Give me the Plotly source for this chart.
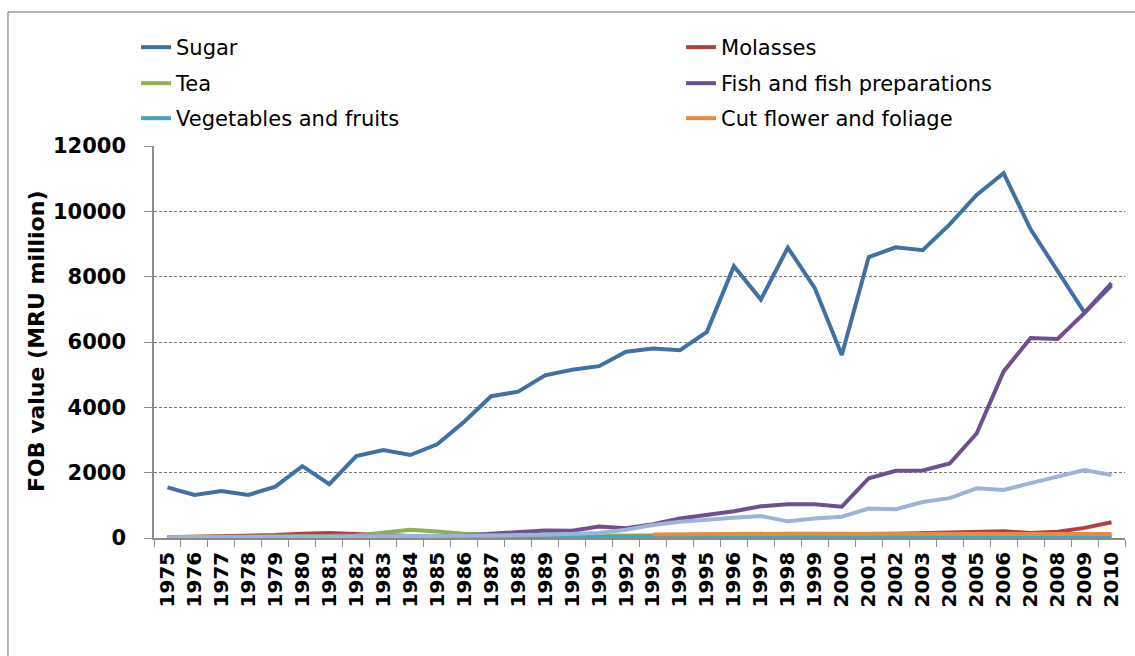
import plotly.graph_objects as go

years = [str(y) for y in range(1975, 2011)]

sugar = [1550, 1320, 1440, 1320, 1570, 2200, 1650, 2510, 2690, 2540, 2870, 3560, 4340, 4480, 4980,
         5150, 5260, 5700, 5800, 5750, 6310, 8320, 7300, 8890, 7650, 5600, 8600, 8900, 8810, 9600,
         10500, 11170, 9450, 8150, 6900, 7730]
molasses = [20, 30, 40, 50, 90, 130, 150, 120, 80, 60, 50, 50, 50, 60, 60, 60, 70, 70, 80, 80,
            80, 90, 90, 100, 100, 110, 120, 130, 150, 200, 220, 210, 150, 190, 310, 480]
tea = [30, 30, 40, 40, 50, 60, 60, 80, 150, 250, 200, 130, 100, 80, 70, 60, 60, 50, 50, 50,
       50, 50, 50, 50, 45, 45, 45, 45, 40, 40, 40, 40, 40, 40, 40, 40]
fish = [0, 0, 0, 0, 10, 30, 40, 40, 50, 60, 60, 80, 120, 180, 230, 220, 350, 300, 420, 600,
        700, 820, 970, 1030, 1030, 960, 1830, 2060, 2070, 2280, 3200, 5100, 6120, 6090, 6890, 7800]
vegetables = [20, 20, 25, 25, 30, 30, 30, 30, 35, 35, 35, 35, 40, 40, 40, 40, 40, 40, 40, 40,
              40, 40, 40, 40, 40, 40, 40, 40, 40, 40, 40, 40, 40, 40, 40, 40]
cut_flower = [None] * 18 + [110, 120, 120, 125, 125, 130, 130, 130, 135, 135, 140, 140, 140,
                            135, 130, 130, 130, 120]
other = [20, 20, 30, 30, 40, 50, 50, 50, 50, 60, 60, 70, 80, 90, 100, 110, 150, 250, 400, 500,
         570, 620, 670, 510, 600, 650, 900, 880, 1100, 1220, 1520, 1470, 1680, 1870, 2080, 1930]

# name, values, colour, legend id (None = not in legend), legend item width
series = [
    ("Sugar", sugar, "#4170A3", "legend", 500),
    ("Molasses", molasses, "#B0413F", "legend", 330),
    ("Tea", tea, "#8FB050", "legend2", 500),
    ("Fish and fish preparations", fish, "#6F4F8F", "legend2", 330),
    ("Vegetables and fruits", vegetables, "#46A3BD", "legend3", 500),
    ("Cut flower and foliage", cut_flower, "#E88B3E", "legend3", 330),
    ("Other", other, "#9DB4D8", None, None),
]

fig = go.Figure()
for name, vals, color, leg, lw in series:
    kw = dict(showlegend=False) if leg is None else dict(legend=leg, legendwidth=lw)
    fig.add_trace(go.Scatter(
        x=years, y=vals, name=name, mode="lines",
        line=dict(color=color, width=4), **kw,
    ))

leg_font = dict(family="DejaVu Sans", size=21, color="black")
leg_common = dict(orientation="h", x=-0.0185, xanchor="left", yanchor="top",
                  font=leg_font, bgcolor="rgba(0,0,0,0)")

fig.update_layout(
    width=1135, height=656,
    margin=dict(l=154, r=10, t=146, b=118),
    paper_bgcolor="white", plot_bgcolor="white",
    showlegend=True,
    legend=dict(y=1.3036, **leg_common),
    legend2=dict(y=1.2117, **leg_common),
    legend3=dict(y=1.1224, **leg_common),
    xaxis=dict(
        type="category", range=[-0.5, 35.5], tickson="boundaries",
        ticks="outside", ticklen=7, tickcolor="#8c8c8c",
        showline=True, linecolor="#8c8c8c", linewidth=1.5,
        showgrid=False, tickangle=-90, ticklabelstandoff=4,
        tickfont=dict(family="DejaVu Sans", size=20, color="black", weight="bold"),
    ),
    yaxis=dict(
        range=[0, 12000], dtick=2000, tick0=0, tickformat="d",
        showgrid=True, gridcolor="#7a7a7a", griddash="3px,2px", gridwidth=1,
        zeroline=False, showline=True, linecolor="#8c8c8c", linewidth=1.5,
        ticks="outside", ticklen=8, tickcolor="#8c8c8c", ticklabelstandoff=14,
        tickfont=dict(family="DejaVu Sans", size=21, color="black", weight="bold"),
    ),
    annotations=[dict(
        text="FOB value (MRU million)", textangle=-90,
        xref="paper", yref="paper", x=-0.1215, y=0.5,
        xanchor="center", yanchor="middle", showarrow=False,
        font=dict(family="DejaVu Sans", size=22, color="black", weight="bold"),
    )],
    shapes=[
        dict(type="line", xref="paper", yref="paper", x0=-0.1504, x1=1.02, y0=1.3418, y1=1.3418,
             line=dict(color="#9a9a9a", width=1.5)),
        dict(type="line", xref="paper", yref="paper", x0=-0.1504, x1=-0.1504, y0=1.3418, y1=-0.31,
             line=dict(color="#9a9a9a", width=1.5)),
    ],
)

fig.write_html("out.html")
